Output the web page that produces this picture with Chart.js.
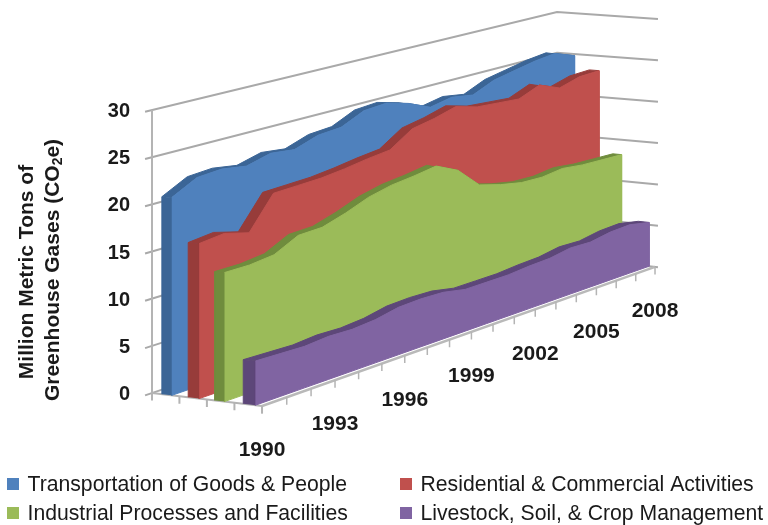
<!DOCTYPE html>
<html>
<head>
<meta charset="utf-8">
<style>
  html, body { margin: 0; padding: 0; background: #ffffff; }
  #wrap { position: relative; width: 768px; height: 525px; }
  canvas { display: block; }
</style>
<script src="https://cdn.jsdelivr.net/npm/chart.js@4/dist/chart.umd.min.js"></script>
</head>
<body>
<div id="wrap"><canvas id="chart" width="768" height="525"></canvas></div>
<script>
// Annual emissions by sector, million metric tons of CO2e
const years = [1990,1991,1992,1993,1994,1995,1996,1997,1998,1999,2000,2001,2002,2003,2004,2005,2006,2007,2008];
const yearLabels = [1990,1993,1996,1999,2002,2005,2008];
const valueTicks = [0,5,10,15,20,25,30];
const transportation = [20.9,22.3,22.5,22.1,22.8,22.5,23.4,23.6,24.8,25.0,24.3,23.2,23.7,23.3,24.4,24.9,25.4,25.7,24.8];
const residential    = [16.3,16.6,15.9,19.4,19.5,19.6,19.9,20.3,20.6,22.3,22.8,23.5,22.8,22.6,22.4,23.4,22.4,23.1,23.2];
const industrial     = [13.5,13.5,13.8,15.1,15.2,16.0,17.0,17.6,17.9,18.3,17.1,14.7,14.0,13.5,13.4,13.7,13.4,13.3,13.2];
const livestock      = [4.6,4.5,4.4,4.6,4.5,4.7,5.2,5.3,5.2,4.7,4.7,4.7,4.9,5.0,5.4,5.3,5.7,5.8,5.3];
const seriesNames = [
  'Transportation of Goods & People',
  'Residential & Commercial Activities',
  'Industrial Processes and Facilities',
  'Livestock, Soil, & Crop Management'
];
const frontColors = ['#4f81bd','#c0504d','#9bbb59','#8064a2'];
const shadeColors = ['#3b6596','#973c3a','#6f8c3d','#5d4779'];
const gridColor = '#a9a9a9';

// Perspective box: t runs along the years, d from the back wall to the front, v is height.
const originX = 152, originY = 393, unitPx = 9.43;
const persp = { g: 0.14, h: -0.0043, a: 483, b: 108.9, ay: -101.16, by: 11.25, vg: 0.16, vh: -0.02 };
const lanes = [[0.09,0.18],[0.33,0.43],[0.57,0.66],[0.83,0.94]];

// Projects a box coordinate into the values of the flat x/y scales.
function project(t, d, v) {
  const w = 1 + persp.g * t + persp.h * d;
  const px = (persp.a * t + persp.b * d + originX) / w;
  const base = (persp.ay * t + persp.by * d + originY) / w;
  const py = base - v * unitPx / (1 + persp.vg * t + persp.vh * d);
  return { x: px, y: (originY - py) / unitPx };
}
const tOf = i => i / (years.length - 1);

const shapes = [];
function polygon(points, color) {
  shapes.push({ data: points, fill: 'shape', backgroundColor: color, borderColor: color,
                borderWidth: 1, pointRadius: 0, tension: 0 });
}
function stroke(points, color, width) {
  shapes.push({ data: points, fill: false, borderColor: color, borderWidth: width,
                pointRadius: 0, tension: 0 });
}

// Walls: one level line per value tick, plus the vertical corner at the left.
valueTicks.forEach(v => stroke([project(-0.015,0,v), project(1,0,v), project(1,1.03,v)], gridColor, 2));
stroke([project(0,0,0), project(0,0,30)], '#b4b4b4', 2);

// Floor edges and tick marks.
[0,0.25,0.5,0.75,1].forEach(d => stroke([project(0,d,0), {x: project(0,d,0).x, y: project(0,d,0).y - 0.8}], '#b4b4b4', 2));
stroke([project(0,0,0), project(0,1,0)], '#b4b4b4', 2);
stroke([project(0,1,0), project(1,1,0)], '#b9b9b9', 2.5);
years.forEach((yr, i) => {
  const p = project(tOf(i), 1, 0);
  stroke([p, {x: p.x, y: p.y - 0.8}], '#b4b4b4', 1.5);
});

// One extruded area per sector, back lane first so nearer lanes overlap it.
[transportation, residential, industrial, livestock].forEach((values, s) => {
  const [back, front] = lanes[s];
  const topBack = values.map((v, i) => project(tOf(i), back, v));
  const topFront = values.map((v, i) => project(tOf(i), front, v));
  const baseFront = values.map((v, i) => project(tOf(i), front, 0));
  polygon([...topBack, ...topFront.slice().reverse()], shadeColors[s]);
  polygon([project(0,back,0), project(0,back,values[0]), project(0,front,values[0]), project(0,front,0)], shadeColors[s]);
  polygon([...topFront, ...baseFront.slice().reverse()], frontColors[s]);
});

// Lower order paints later, so the list order becomes back to front.
shapes.forEach((ds, i) => { ds.order = shapes.length - i; });

const fontFamily = '"Liberation Sans", Arial, sans-serif';

const annotations = {
  id: 'annotations',
  afterDraw(chart) {
    const { ctx, scales: { x, y } } = chart;
    ctx.save();
    // Year labels below the front floor edge
    ctx.fillStyle = '#1a1a1a';
    ctx.font = 'bold 21px ' + fontFamily;
    ctx.textAlign = 'center';
    ctx.textBaseline = 'middle';
    yearLabels.forEach(yr => {
      const p = project(tOf(years.indexOf(yr)), 1, 0);
      ctx.fillText(String(yr), x.getPixelForValue(p.x), y.getPixelForValue(p.y) + 44.5);
    });

    // Two-line axis title with a subscript in CO2e
    ctx.font = 'bold 21px ' + fontFamily;
    ctx.translate(27, 272);
    ctx.rotate(-Math.PI / 2);
    ctx.fillText('Million Metric Tons of', 0, 0);
    const parts = ['Greenhouse Gases (CO', '2', 'e)'];
    const w0 = ctx.measureText(parts[0]).width;
    const w2 = ctx.measureText(parts[2]).width;
    ctx.font = 'bold 14px ' + fontFamily;
    const w1 = ctx.measureText(parts[1]).width;
    let cursor = -(w0 + w1 + w2) / 2 + 2;
    ctx.textAlign = 'left';
    ctx.font = 'bold 21px ' + fontFamily;
    ctx.fillText(parts[0], cursor, 26);
    cursor += w0;
    ctx.font = 'bold 14px ' + fontFamily;
    ctx.fillText(parts[1], cursor, 31);
    cursor += w1;
    ctx.font = 'bold 21px ' + fontFamily;
    ctx.fillText(parts[2], cursor, 26);
    ctx.restore();

    // Legend in two columns
    ctx.save();
    ctx.font = '21.2px ' + fontFamily;
    ctx.textBaseline = 'middle';
    ctx.textAlign = 'left';
    const cols = [7, 400], rows = [484, 513];
    seriesNames.forEach((name, i) => {
      const cx = cols[i % 2], cy = rows[Math.floor(i / 2)];
      ctx.fillStyle = frontColors[i];
      ctx.fillRect(cx, cy - 6, 12, 12);
      ctx.fillStyle = '#1a1a1a';
      ctx.fillText(name, cx + 20.5, cy + 1);
    });
    ctx.restore();
  }
};

new Chart(document.getElementById('chart'), {
  type: 'line',
  data: { datasets: shapes },
  plugins: [annotations],
  options: {
    responsive: false,
    animation: false,
    events: [],
    layout: { padding: 0, autoPadding: false },
    plugins: { legend: { display: false }, tooltip: { enabled: false } },
    scales: {
      x: { type: 'linear', min: 0, max: 768, display: false },
      y: {
        type: 'linear',
        min: (originY - 525) / unitPx,
        max: originY / unitPx,
        position: { x: 130 },
        afterBuildTicks(scale) { scale.ticks = valueTicks.map(v => ({ value: v })); },
        // The labels sit inside the plot, so they need no room at the canvas edges.
        afterFit(scale) {
          scale.paddingTop = 0;
          scale.paddingBottom = 0;
          scale.paddingLeft = 0;
          scale.paddingRight = 0;
        },
        grid: { display: false },
        border: { display: false },
        ticks: { autoSkip: false, labelOffset: 1.5, color: '#1a1a1a', font: { family: fontFamily, size: 20, weight: 'bold' } }
      }
    }
  }
});
</script>
</body>
</html>
